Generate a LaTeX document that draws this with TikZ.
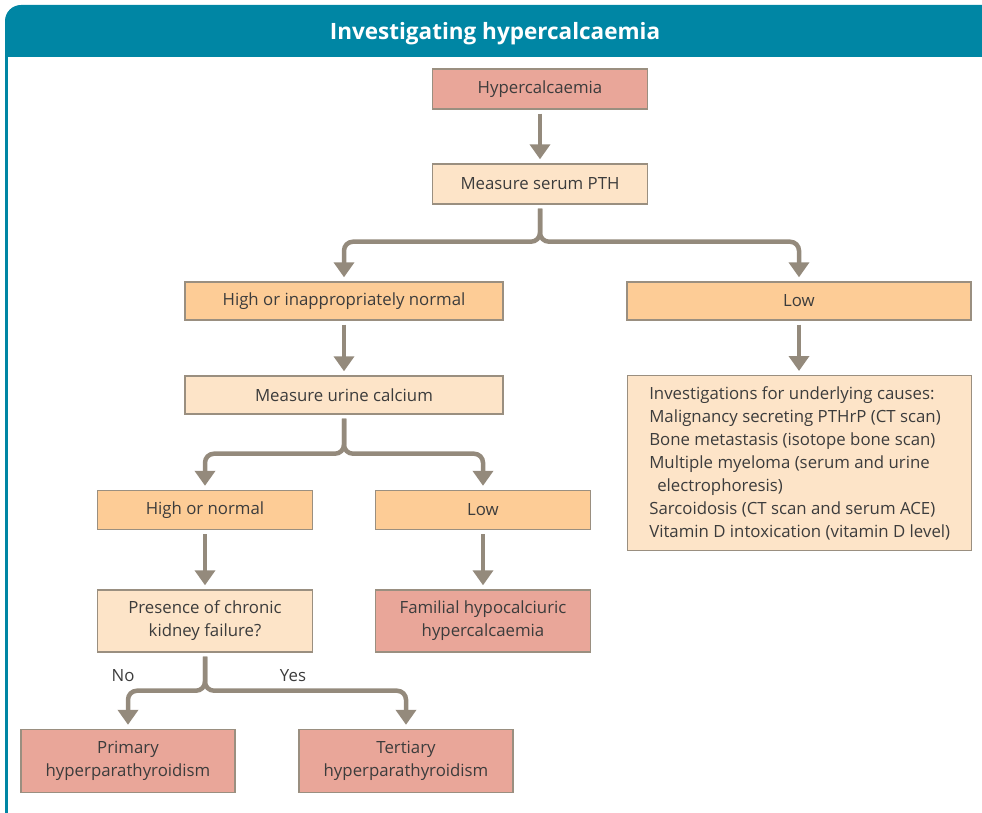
\documentclass[tikz,border=0pt]{standalone}
\usepackage{fontspec}
\setmainfont{Open Sans}
\usetikzlibrary{arrows.meta}

\definecolor{titleteal}{HTML}{0086A4}
\definecolor{boxedge}{HTML}{9A8F80}
\definecolor{linkgrey}{HTML}{948A7C}
\definecolor{rosefill}{HTML}{E9A699}
\definecolor{peachfill}{HTML}{FDE4C8}
\definecolor{orangefill}{HTML}{FDCC96}
\definecolor{textgrey}{HTML}{3C3C3C}

\tikzset{
  box/.style={draw=boxedge, line width=1.4pt, text=textgrey, align=center,
    font=\fontsize{16.8}{23}\selectfont, inner sep=0pt, minimum height=40pt},
  result/.style={box, fill=rosefill},
  query/.style={box, fill=peachfill},
  answer/.style={box, fill=orangefill},
  link/.style={draw=linkgrey, line width=4.5pt, rounded corners=9pt,
    -{Triangle[width=20pt,length=15pt]}, shorten >=4pt, shorten <=4pt},
  tag/.style={text=textgrey, font=\fontsize{16.8}{19}\selectfont},
}

\begin{document}
\begin{tikzpicture}[x=1pt,y=-1pt]
\useasboundingbox (0,0) rectangle (982,813);
\fill[titleteal] (5,57) -- (5,21) arc[start angle=180, end angle=270, radius=16]
  -- (982,5) -- (982,57) -- cycle;
\draw[titleteal, line width=2.5pt] (6.5,57) -- (6.5,813);
\node[font=\fontsize{22.5}{26}\selectfont\bfseries, text=white] (title) at (495,34) {Investigating hypercalcaemia};

\node[result, minimum width=215pt] (hyper) at (540,89) {Hypercalcaemia};
\node[query, minimum width=215pt] (pth) at (540,184) {Measure serum PTH};
\node[answer, minimum width=318pt, minimum height=38pt] (highpth) at (344,301) {High or inappropriately normal};
\node[answer, minimum width=344pt, minimum height=38pt] (lowpth) at (799,301) {Low};
\node[query, minimum width=318pt, minimum height=38pt] (urine) at (344,395) {Measure urine calcium};
\node[query, anchor=north west, align=left, minimum width=344pt,
  minimum height=175pt] (causes) at (627,375)
  {Investigations for underlying causes:\\
   Malignancy secreting PTHrP (CT scan)\\
   Bone metastasis (isotope bone scan)\\
   Multiple myeloma (serum and urine\\
   \hspace*{8pt}electrophoresis)\\
   Sarcoidosis (CT scan and serum ACE)\\
   Vitamin D intoxication (vitamin D level)};
\node[answer, minimum width=215pt, minimum height=39pt] (highnorm) at (205,510) {High or normal};
\node[answer, minimum width=215pt, minimum height=39pt] (lowurine) at (483,510) {Low};
\node[query, minimum width=215pt, minimum height=62pt] (ckd) at (205,621) {Presence of chronic\\kidney failure?};
\node[result, minimum width=215pt, minimum height=62pt] (fhh) at (483,621) {Familial hypocalciuric\\hypercalcaemia};
\node[result, minimum width=214pt, minimum height=63pt] (primary) at (128,761) {Primary\\hyperparathyroidism};
\node[result, minimum width=214pt, minimum height=63pt] (tertiary) at (406,761) {Tertiary\\hyperparathyroidism};
\node[tag] (no) at (123,676) {No};
\node[tag] (yes) at (293,676) {Yes};

\draw[link] (hyper) -- (pth);
\draw[link] (pth.south) -- ++(0,37) -| (highpth.north);
\draw[link] (pth.south) -- ++(0,37) -| (lowpth.north);
\draw[link] (highpth) -- (urine);
\draw[link] (lowpth) -- (causes.north -| lowpth);
\draw[link] (urine.south) -- ++(0,39) -| (highnorm.north);
\draw[link] (urine.south) -- ++(0,39) -| (lowurine.north);
\draw[link] (highnorm) -- (ckd);
\draw[link] (lowurine) -- (fhh);
\draw[link] (ckd.south) -- ++(0,38) -| (primary.north);
\draw[link] (ckd.south) -- ++(0,38) -| (tertiary.north);
\end{tikzpicture}
\end{document}
